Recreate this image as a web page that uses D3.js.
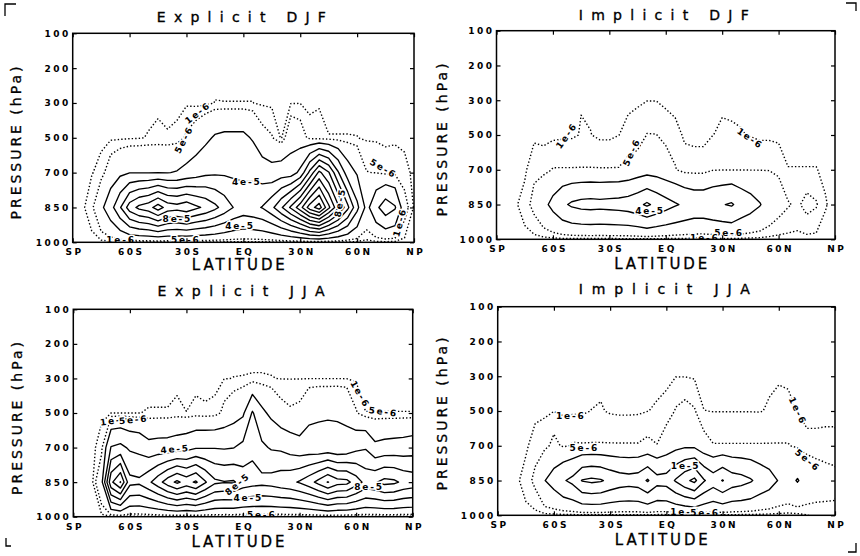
<!DOCTYPE html>
<html><head><meta charset="utf-8">
<script src="https://cdn.jsdelivr.net/npm/d3@7"></script>
<style>
body{margin:0;background:#fff}
svg{display:block}
</style></head><body>
<svg id="c" width="860" height="556"></svg>
<script>
// ---------- categories / axes ----------
const LATS = [-90,-85,-80,-75,-70,-65,-60,-55,-50,-45,-40,-35,-30,-25,-20,-15,-10,-5,0,5,10,15,20,25,30,35,40,45,50,55,60,65,70,75,80,85,90];
const LEVELS = [100,200,300,500,700,850,1000];
const LAT_TICKS = [-90,-60,-30,0,30,60,90];
const LAT_TICK_LABELS = ["SP","60S","30S","EQ","30N","60N","NP"];
// contour levels, in units of 1e-6
const DOTTED_LEVELS = [1,5];
const SOLID_LEVELS = [20,40,60,80,100,120,140,160,180,200];

// ---------- field values (units of 1e-6), one array per pressure level ----------
const P100 = [0,0,0,0,0,0,0,0,0,0,0,0,0,0,0,0,0,0,0,0,0,0,0,0,0,0,0,0,0,0,0,0,0,0,0,0,0];
const P200 = [0,0,0,0,0,0,0,0,0,0,0,0,0,0,0,0,0,0,0,0,0,0,0,0,0,0,0,0,0,0,0,0,0,0,0,0,0];
const P1000 = [0,0,0,0,0,0,0,0,0,0,0,0,0,0,0,0,0,0,0,0,0,0,0,0,0,0,0,0,0,0,0,0,0,0,0,0,0];

// Explicit DJF
const eDJF_300 = [0,0,0,0,0,0,0,0,0,0.59,0.4,0,0.5,0,0,1.1,1.05,1.05,1.05,1.05,0.5,0.3,0,0.8,0.9,0,0.9,0.2,0.2,0.2,0.2,0.1,0,0,0,0,0];
const eDJF_500 = [0,0,0,0.17,0.3,0.3,0.5,0.7,1.25,1.5,1.2,2,6,10,16,22,24,24,24,18.3,7.8,5.5,0.5,12,9.3,3,1.5,1.1,1.1,1.1,1.05,0.6,0.5,0.3,0.5,0.3,0];
const eDJF_700 = [0,0,0.78,2.25,10,15.6,19.5,19.5,19.5,19.5,19.5,21,25,30,35,37,37,36,36,35,30,26,30,30,45,85,125,102,62,30,18,5.2,4.8,3,3,2,0.3];
const eDJF_850 = [0,0.3,3,16,32,58,90,105,112,130,112,108,114,104,96,85,72,59,52,55,61,75,97,123,152,190,210,165,125,85,45,14,35,52,42,8,0.5];

// Implicit DJF
const iDJF_300 = [0,0,0,0,0,0,0,0,0,0.85,0.4,0,0,0,0.3,0.94,0.9,0.9,0.1,0,0,0,0,0,0.5,0.4,0.3,0,0,0,0,0,0,0,0,0,0];
const iDJF_500 = [0,0,0,0,0.2,0,0.2,0.4,0.5,1.2,1.1,0.3,0.3,0.95,2,1.23,5.2,5.1,3.7,2,0.62,0.55,0.55,0.95,1.5,1.4,1.2,0.8,0.3,0.3,0,0,0,0,0,0,0];
const iDJF_700 = [0,0,0.2,0.3,3.7,3.2,5.3,5.3,5.3,5.3,5.3,5.3,5.3,5.3,7,10,12.4,11.25,8,5.5,2.2,1.9,1.9,4.5,4.8,4.8,4.8,4.8,4.8,4.8,4.25,1.1,1.1,1.1,1.1,0.5,0];
const iDJF_850 = [0,0,0.5,2.5,7,15,25,36,43,46,47,46,47,48,50,55,63,55,48,42,37,33,33,36,39,42,33,27,21,13,8,5.5,4,7,5.5,1.2,0];

// Explicit JJA
const eJJA_300 = [0,0,0,0,0,0,0,0,0,0,0,0,0,0,0,0,0.9,1.05,1.1,1.2,1.2,1.1,0.9,0.9,0.9,0.9,0.9,0.9,0.9,0.88,0.5,0,0,0,0,0,0];
const eJJA_500 = [0,0,0,0.3,0.95,0.95,0.95,0.95,1.2,1.2,1.2,2,1.05,2,1.5,2,7,11.6,17,42,24,16,8,6,7,16.2,18.4,18.5,19,16.9,5.6,1.05,1.05,1.05,1.05,1.05,1.05];
const eJJA_700 = [0,0,0.05,2.75,41,45,37,34,25.7,27,27.5,30,33,38,38.5,39,38,39.5,45,55,43.7,38,36.4,31,26.7,27,24.5,25.7,23,25,34.4,38.2,24,26,27,28,30];
const eJJA_850 = [0,0,0.1,14,95,121,66,64,76,92,110,124,112,123,102,84,81,82,72,68,66,68,72,75,82,92,106,121,108,106,90,74,78,86,84,76,72];

// Implicit JJA
const iJJA_300 = [0,0,0,0,0,0,0,0,0,0,0,0.2,0,0,0,0,0,0.3,0.55,0.9,0.9,0.6,0,0,0,0,0,0,0,0.55,0.8,0.7,0,0,0,0,0];
const iJJA_500 = [0,0,0,0,0,0.5,0.94,0.5,0.5,0.5,1.05,1.3,0.6,0.4,0.4,0.5,0.95,1.3,1.67,5.5,7,5.5,1.05,0.9,0.9,0.9,0.9,0.9,0.85,1.3,1.6,1.5,0.95,0,0,0,0];
const iJJA_700 = [0,0,0.1,0.36,2.75,3,7,4,5.5,5.4,5.4,5.4,5.4,5.4,5.4,5.4,6.5,5.2,10,14,17,16,8,5.3,5.3,5.3,5.3,5.3,5.3,5.3,5.3,5.3,4,2,2,2.2,2.2];
const iJJA_850 = [0,0,0.3,2.5,6.5,19.5,27,38,45,61,64,62,55,50,48,50,62,47,48,62,75,85,62,50,61,50,47,42,33,27,19,15,21,14,10,8,7];
const iJJA_1000 = [0,0,0,0,0,0,0,0,0,0,0,0,0,0,0,0,0,0,0,0,0,0,0,0,0,0,0,0,0,0,0,0,0,0.8,2,3,3.5];

// contour labels (latitude, level index 0..6)
const eDJF_labels = [
  {t:"1e-6",lat:-24,lev:2.29,rot:-38},{t:"5e-6",lat:-31.3,lev:3.06,rot:-62},
  {t:"4e-5",lat:1.8,lev:4.26,rot:0},{t:"8e-5",lat:-34.8,lev:5.33,rot:0},
  {t:"4e-5",lat:-1.8,lev:5.53,rot:0},{t:"1e-6",lat:-64.5,lev:5.94,rot:0},
  {t:"5e-6",lat:-30.4,lev:5.93,rot:0},{t:"8e-5",lat:51,lev:4.86,rot:-80},
  {t:"5e-6",lat:73.8,lev:3.88,rot:30},{t:"1e-6",lat:82.6,lev:5.43,rot:-75}];
const iDJF_labels = [
  {t:"1e-6",lat:-52.7,lev:3.02,rot:-55},{t:"5e-6",lat:-18.1,lev:3.5,rot:-65},
  {t:"1e-6",lat:44.8,lev:3.1,rot:35},{t:"4e-5",lat:-8.4,lev:5.18,rot:0},
  {t:"5e-6",lat:33.6,lev:5.83,rot:0},{t:"1e-6",lat:20.8,lev:5.97,rot:0}];
const eJJA_labels = [
  {t:"1e-6",lat:-68,lev:3.22,rot:-8},{t:"5e-6",lat:-58,lev:3.2,rot:-5},
  {t:"1e-6",lat:62,lev:2.46,rot:60},{t:"5e-6",lat:74.4,lev:2.97,rot:8},
  {t:"4e-5",lat:-36,lev:4.05,rot:-5},{t:"8e-5",lat:-2.9,lev:5.06,rot:-40},
  {t:"4e-5",lat:2.8,lev:5.47,rot:0},{t:"5e-6",lat:9.9,lev:5.95,rot:0},
  {t:"8e-5",lat:66.8,lev:5.15,rot:0}];
const iJJA_labels = [
  {t:"1e-6",lat:-51,lev:3.14,rot:0},{t:"5e-6",lat:-43.8,lev:4.06,rot:0},
  {t:"1e-6",lat:70,lev:3.0,rot:65},{t:"5e-6",lat:75.3,lev:4.42,rot:40},
  {t:"1e-5",lat:10.3,lev:4.57,rot:0},{t:"1e-6",lat:10,lev:5.9,rot:0},
  {t:"5e-6",lat:20.6,lev:5.93,rot:0}];

// ---------- layout ----------
const panels = [
  {title:"Explicit DJF", frame:[72.7,33.3,414,242.3], rows:[P100,P200,eDJF_300,eDJF_500,eDJF_700,eDJF_850,P1000], labels:eDJF_labels,
   titleY:21.5, titleLen:169, latY:270, presX:20.7, presY:143},
  {title:"Implicit DJF", frame:[496.5,30.7,835,239.3], rows:[P100,P200,iDJF_300,iDJF_500,iDJF_700,iDJF_850,P1000], labels:iDJF_labels,
   titleY:19.5, titleLen:170, latY:269.3, presX:446.5, presY:140},
  {title:"Explicit JJA", frame:[73.3,309.3,412.7,516.7], rows:[P100,P200,eJJA_300,eJJA_500,eJJA_700,eJJA_850,P1000], labels:eJJA_labels,
   titleY:296, titleLen:167, latY:546.7, presX:21.5, presY:418.5},
  {title:"Implicit JJA", frame:[497.7,306.7,835,515.3], rows:[P100,P200,iJJA_300,iJJA_500,iJJA_700,iJJA_850,iJJA_1000], labels:iJJA_labels,
   titleY:294.3, titleLen:171, latY:545.3, presX:446.5, presY:414}
];

const svg = d3.select("#c");
const FONT = "'DejaVu Sans', sans-serif";
const thresholds = DOTTED_LEVELS.concat(SOLID_LEVELS);

panels.forEach((p, pi) => {
  const [x0,y0,x1,y1] = p.frame;
  const x = d3.scaleLinear().domain([LATS[0], LATS[LATS.length-1]]).range([x0,x1]);
  const y = d3.scalePoint().domain(LEVELS).range([y0,y1]);
  const yi = d3.scaleLinear().domain([0, LEVELS.length-1]).range([y0,y1]);
  // grid coordinate (cell centres at i+0.5) -> pixel
  const gx = d3.scaleLinear().domain([0.5, LATS.length-0.5]).range([x(LATS[0]), x(LATS[LATS.length-1])]);
  const gy = d3.scaleLinear().domain([0.5, LEVELS.length-0.5]).range([yi(0), yi(LEVELS.length-1)]);

  const values = [].concat(...p.rows);
  const contours = d3.contours().size([LATS.length, LEVELS.length]).thresholds(thresholds)(values);
  const tr = d3.geoTransform({point(px,py){ this.stream.point(gx(px), gy(py)); }});
  const path = d3.geoPath(tr);

  const g = svg.append("g");
  const clipId = "clip"+pi;
  svg.append("defs").append("clipPath").attr("id",clipId)
    .append("rect").attr("x",x0).attr("y",y0).attr("width",x1-x0).attr("height",y1-y0);

  const cg = g.append("g").attr("clip-path",`url(#${clipId})`);
  cg.selectAll("path").data(contours).join("path")
    .attr("d", path)
    .attr("fill","none")
    .attr("stroke","#000")
    .attr("stroke-width", d => DOTTED_LEVELS.includes(d.value) ? 1.4 : 1.35)
    .attr("stroke-dasharray", d => DOTTED_LEVELS.includes(d.value) ? "1.4 2.1" : null)
    .attr("stroke-linejoin","round");

  // contour labels
  cg.selectAll("text.cl").data(p.labels).join("text")
    .attr("class","cl")
    .attr("transform", d => `translate(${x(d.lat)},${yi(d.lev)}) rotate(${d.rot})`)
    .attr("text-anchor","middle")
    .attr("dominant-baseline","central")
    .attr("font-family",FONT).attr("font-size",9).attr("font-weight","bold")
    .attr("letter-spacing","1.8px")
    .attr("stroke","#fff").attr("stroke-width",3).attr("paint-order","stroke")
    .attr("fill","#000")
    .text(d => d.t);

  // frame
  g.append("rect").attr("x",x0).attr("y",y0).attr("width",x1-x0).attr("height",y1-y0)
    .attr("fill","none").attr("stroke","#000").attr("stroke-width",1.5);

  // axes with inward ticks
  const ax = g.append("g").attr("transform",`translate(0,${y1})`)
    .call(d3.axisBottom(x).tickValues(LAT_TICKS).tickFormat((d,i)=>LAT_TICK_LABELS[i]).tickSize(-4).tickPadding(6.6));
  g.append("g").attr("transform",`translate(0,${y0})`)
    .call(d3.axisTop(x).tickValues(LAT_TICKS).tickFormat("").tickSize(-4));
  g.append("g").attr("transform",`translate(${x0},0)`)
    .call(d3.axisLeft(y).tickSize(-4).tickPadding(2));
  g.append("g").attr("transform",`translate(${x1},0)`)
    .call(d3.axisRight(y).tickFormat("").tickSize(-4));
  g.selectAll(".domain").remove();
  g.selectAll(".tick line").attr("stroke","#000").attr("stroke-width",1.2);
  g.selectAll(".tick text").attr("font-family",FONT).attr("font-size",9).attr("font-weight","bold")
    .attr("letter-spacing","2.5px").attr("fill","#000");
  ax.selectAll(".tick text").attr("dx","1.25");

  // titles
  g.append("text").attr("x",(x0+x1)/2 - 2).attr("y",p.titleY).attr("text-anchor","middle")
    .attr("font-family",FONT).attr("font-size",14).attr("fill","#000")
    .attr("stroke","#000").attr("stroke-width",0.35)
    .attr("textLength",p.titleLen).attr("lengthAdjust","spacing").text(p.title);
  g.append("text").attr("x",(x0+x1)/2 - 5).attr("y",p.latY).attr("text-anchor","middle")
    .attr("font-family",FONT).attr("font-size",15).attr("fill","#000")
    .attr("stroke","#000").attr("stroke-width",0.3)
    .attr("textLength",93).attr("lengthAdjust","spacing").text("LATITUDE");
  g.append("text").attr("transform",`translate(${p.presX},${p.presY}) rotate(-90)`).attr("text-anchor","middle")
    .attr("font-family",FONT).attr("font-size",14).attr("fill","#000")
    .attr("stroke","#000").attr("stroke-width",0.3)
    .attr("textLength",153).attr("lengthAdjust","spacing").text("PRESSURE (hPa)");
});

// corner crop marks
const marks = ["M5,16V4H16","M846,3H856V11","M6,538V546H11","M848,552H856V543"];
svg.selectAll("path.mark").data(marks).join("path").attr("class","mark")
  .attr("d",d=>d).attr("fill","none").attr("stroke","#000").attr("stroke-width",1.3);
</script>
</body></html>
